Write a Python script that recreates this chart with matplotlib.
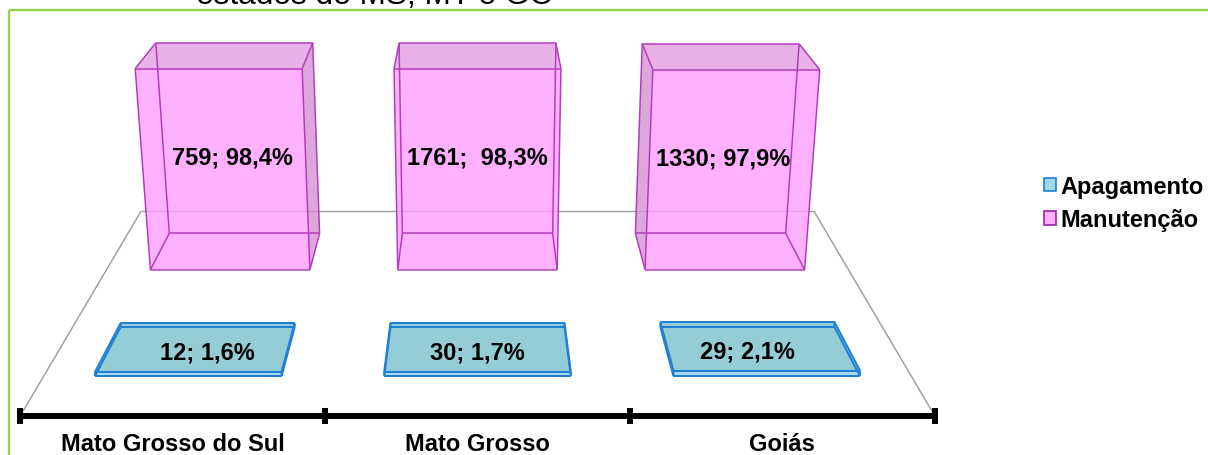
import numpy as np
import matplotlib
matplotlib.use("Agg")
import matplotlib.pyplot as plt
from matplotlib.patches import Polygon, Patch, Rectangle
from matplotlib.collections import LineCollection

# ---- data -------------------------------------------------------------
categories = ["Mato Grosso do Sul", "Mato Grosso", "Goiás"]
series_names = ["Apagamento", "Manutenção"]
apag_counts = [12, 30, 29]
apag_pct = [1.6, 1.7, 2.1]
manut_counts = [759, 1761, 1330]
manut_pct = [98.4, 98.3, 97.9]
apag_labels = ["12; 1,6%", "30; 1,7%", "29; 2,1%"]
manut_labels = ["759; 98,4%", "1761;  98,3%", "1330; 97,9%"]
title_tail = "estados de MS, MT e GO"

# ---- 3-D scene / camera ----------------------------------------------
W, H_PX, DPI = 1208, 456, 100
PHI = np.radians(20.0)           # camera pitch (looking down)
FOC = 1593.0                     # focal length in pixels
CX, CY = 477.5, 222.0            # principal point
CAM_Y, CAM_Z = -4.725, 2.388     # camera position (X = 0)
FLOOR_D = 1.963                  # floor depth (world units)
ROW_Y = [0.48, 1.47]             # depth centre of each series row
ROW_DEPTH = 0.42
BAR_W = 0.645
Z_PER_PCT = 0.0085
AXIS_Y = -0.03

def project(x, y, z):
    rx, ry, rz = x, y - CAM_Y, z - CAM_Z
    depth = ry * np.cos(PHI) - rz * np.sin(PHI)
    up = ry * np.sin(PHI) + rz * np.cos(PHI)
    return CX + FOC * rx / depth, CY - FOC * up / depth

def px(v):
    return v * 72.0 / DPI

fig = plt.figure(figsize=(W / DPI, H_PX / DPI), dpi=DPI)
ax = fig.add_axes([0, 0, 1, 1])
ax.set_xlim(0, W)
ax.set_ylim(H_PX, 0)
ax.axis("off")

font = "Liberation Sans"
ncat = len(categories)
xc = np.arange(ncat) - (ncat - 1) / 2.0
xmin, xmax = xc[0] - 0.5, xc[-1] + 0.5

# frame around the chart
ax.add_patch(Rectangle((8.7, 10.5), 1300, 600, fill=False,
                       ec="#92D050", lw=px(2.4), zorder=0))

# tail of the caption above the chart
ax.text(196, 4.5, title_tail, fontsize=22.8, family=font, ha="left",
        va="baseline", color="#000000", zorder=1)

# floor outline
floor = [((xmin, FLOOR_D, 0), (xmax, FLOOR_D, 0)),
         ((xmin, 0, 0), (xmin, FLOOR_D, 0)),
         ((xmax, 0, 0), (xmax, FLOOR_D, 0))]
ax.add_collection(LineCollection(
    [[project(*a), project(*b)] for a, b in floor],
    colors="#9C9C9C", linewidths=px(1.4), zorder=1))

def draw_box(x, yc, h, face_cols, edge_col, elw, alpha, zo):
    x0, x1 = x - BAR_W / 2, x + BAR_W / 2
    y0, y1 = yc - ROW_DEPTH / 2, yc + ROW_DEPTH / 2
    faces = []
    if x0 > 0:
        faces.append(([(x0, y0, 0), (x0, y1, 0), (x0, y1, h), (x0, y0, h)], "side"))
    if x1 < 0:
        faces.append(([(x1, y0, 0), (x1, y1, 0), (x1, y1, h), (x1, y0, h)], "side"))
    faces.append(([(x0, y0, h), (x1, y0, h), (x1, y1, h), (x0, y1, h)], "top"))
    faces.append(([(x0, y0, 0), (x1, y0, 0), (x1, y0, h), (x0, y0, h)], "front"))
    for pts, kind in faces:
        ax.add_patch(Polygon([project(*p) for p in pts], closed=True,
                             fc=face_cols[kind], ec="none", alpha=alpha,
                             zorder=zo))
    c = {(i, j, k): (xx, yy, zz)
         for i, xx in enumerate((x0, x1))
         for j, yy in enumerate((y0, y1))
         for k, zz in enumerate((0, h))}
    segs = []
    for (i, j, k), p in c.items():
        for d in range(3):
            key = [i, j, k]
            if key[d] == 0:
                key[d] = 1
                segs.append([project(*p), project(*c[tuple(key)])])
    ax.add_collection(LineCollection(segs, colors=edge_col,
                                     linewidths=elw, zorder=zo + 0.5))
    centre = project(x, yc, h / 2)
    back_top = project(x, y1, h)
    return centre, back_top

manut_cols = {"front": "#FF9CFF", "top": "#E29BE2", "side": "#D48ED4"}
apag_cols = {"front": "#A3D6EE", "top": "#8FCBD4", "side": "#A3D6EE"}

label_kw = dict(fontsize=17, family=font, weight="bold", ha="center",
                va="center", color="black", zorder=10)

# back row: Manutenção
for x, pct, lab in zip(xc, manut_pct, manut_labels):
    (u, v), _ = draw_box(x, ROW_Y[1], pct * Z_PER_PCT, manut_cols,
                         "#B23CBC", px(1.5), 0.78, 3)
    ax.text(u, v + 2, lab, **label_kw)

# front row: Apagamento (label sits over the slab, centred on its back edge)
for x, pct, lab in zip(xc, apag_pct, apag_labels):
    (u, v), (ub, _) = draw_box(x, ROW_Y[0], pct * Z_PER_PCT, apag_cols,
                               "#1F80D4", px(2.0), 0.95, 5)
    ax.text(ub, v + 3, lab, **label_kw)

# category axis
(a_u0, a_v), (a_u1, _) = project(xmin, AXIS_Y, 0), project(xmax, AXIS_Y, 0)
ax.plot([a_u0, a_u1], [a_v + 1, a_v + 1], color="black", lw=px(6),
        zorder=7, solid_capstyle="butt")
ticks = [project(t, AXIS_Y, 0) for t in np.arange(xmin, xmax + 0.01, 1.0)]
ax.plot([t[0] for t in ticks], [t[1] + 1 for t in ticks], ls="none",
        marker="|", ms=px(16), mew=px(6), color="black", zorder=7)
for x, name in zip(xc, categories):
    u, v = project(x, AXIS_Y, 0)
    ax.text(u, v + 28, name, fontsize=17, family=font, weight="bold",
            ha="center", va="center", color="black", zorder=8)

# legend
handles = [Patch(fc="#9DD9E6", ec="#1F80D4", lw=1.2, label=series_names[0]),
           Patch(fc="#FFAFFF", ec="#A020A8", lw=1.2, label=series_names[1])]
fig.legend(handles=handles, loc="center left",
           bbox_to_anchor=(1044 / W, 1 - 204 / H_PX), frameon=False,
           prop=dict(family=font, weight="bold", size=17),
           handlelength=0.5, handleheight=0.5, handletextpad=0.2,
           labelspacing=0.45, borderpad=0, borderaxespad=0)

fig.savefig("out.png", dpi=DPI)
